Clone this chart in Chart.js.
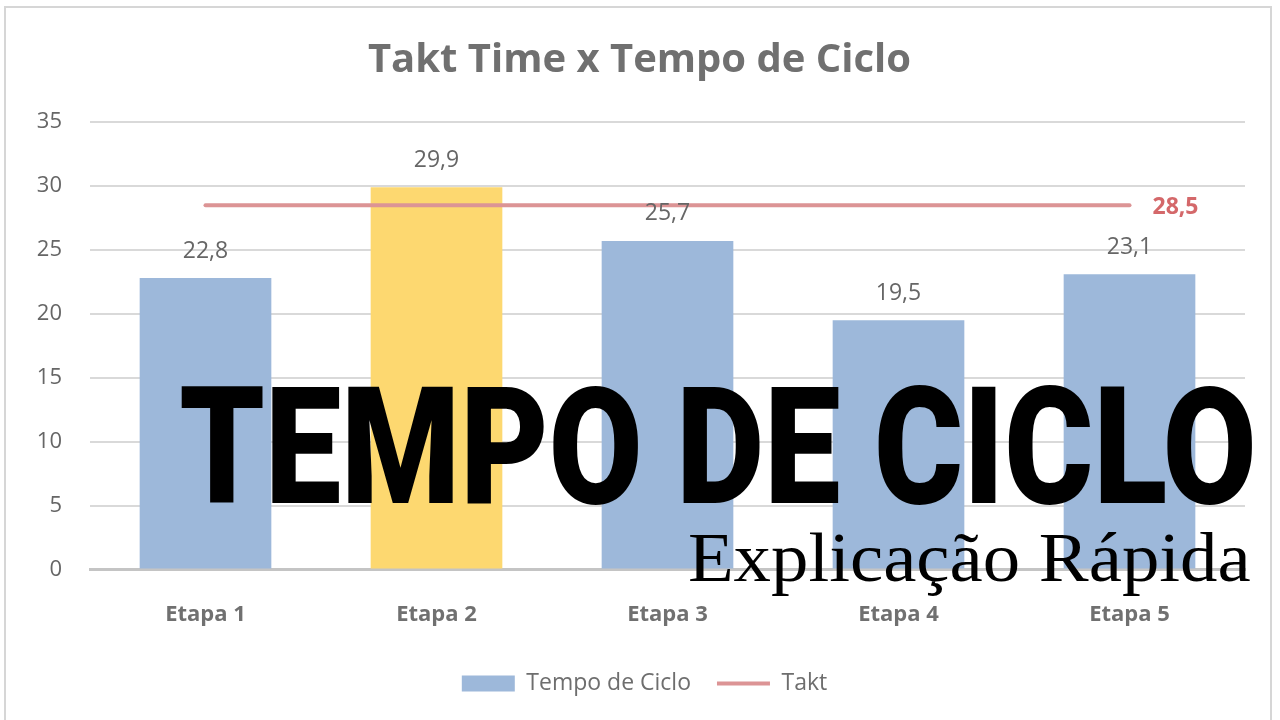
<!DOCTYPE html>
<html>
<head>
<meta charset="utf-8">
<title>Takt Time x Tempo de Ciclo</title>
<script src="https://cdn.jsdelivr.net/npm/chart.js@4.4.1/dist/chart.umd.min.js"></script>
<style>
  html, body { margin: 0; padding: 0; background: #fff; overflow: hidden; }
  #frame { position: absolute; left: 4px; top: 6px; width: 1264px; height: 740px; border: 2px solid #d6d6d6; }
  #wrap { position: absolute; left: 0; top: 0; width: 1280px; height: 720px; }
</style>
</head>
<body>
<div id="frame"></div>
<div id="wrap"><canvas id="myChart" width="1280" height="720"></canvas></div>
<script>
// dados do gráfico
var etapas = ['Etapa 1', 'Etapa 2', 'Etapa 3', 'Etapa 4', 'Etapa 5'];
var tempoCiclo = [22.8, 29.9, 25.7, 19.5, 23.1];
var takt = [28.5, 28.5, 28.5, 28.5, 28.5];
var barColors = ['#9db8da', '#fdd870', '#9db8da', '#9db8da', '#9db8da'];
var yTicks = [0, 5, 10, 15, 20, 25, 30, 35];

var grayText = '#6e6e6e';

function fmt(v){
  return v.toFixed(1).replace('.', ',');
}

// rótulos de valor acima das barras e do takt
var valueLabels = {
  id: 'valueLabels',
  afterDatasetsDraw: function(chart){
    var ctx = chart.ctx;
    ctx.save();
    var barMeta = chart.getDatasetMeta(0);
    ctx.font = '23px "Open Sans"';
    ctx.fillStyle = '#666666';
    ctx.textAlign = 'center';
    ctx.textBaseline = 'middle';
    barMeta.data.forEach(function(el, i){
      ctx.fillText(fmt(tempoCiclo[i]), el.x, el.y - 27);
    });
    var lineMeta = chart.getDatasetMeta(1);
    var last = lineMeta.data[lineMeta.data.length - 1];
    ctx.font = 'bold 23px "Open Sans"';
    ctx.fillStyle = '#d4686a';
    ctx.textAlign = 'left';
    ctx.fillText(fmt(takt[takt.length - 1]), last.x + 23, last.y + 2);
    ctx.restore();
  }
};

// centraliza título e legenda na moldura
var shiftBoxes = {
  id: 'shiftBoxes',
  afterLayout: function(chart){
    chart.legend.left += 22;
    chart.legend.right += 22;
    if (chart.titleBlock) {
      chart.titleBlock.left += 17;
      chart.titleBlock.right += 17;
    }
  }
};

// texto grande sobreposto
function fitText(ctx, text, font, left, right, capTop, baseline, refChar){
  ctx.textAlign = 'left';
  ctx.textBaseline = 'alphabetic';
  ctx.font = font.replace('SIZE', '100px');
  var a = ctx.measureText(refChar).actualBoundingBoxAscent;
  var size = Math.round(100 * (baseline - capTop) / a);
  ctx.font = font.replace('SIZE', size + 'px');
  var m = ctx.measureText(text);
  var inkW = m.actualBoundingBoxLeft + m.actualBoundingBoxRight;
  var sx = (right - left) / inkW;
  ctx.save();
  ctx.translate(left + m.actualBoundingBoxLeft * sx, baseline);
  ctx.scale(sx, 1);
  ctx.fillText(text, 0, 0);
  ctx.restore();
}

var overlayText = {
  id: 'overlayText',
  afterDraw: function(chart){
    var ctx = chart.ctx;
    ctx.save();
    ctx.fillStyle = '#000000';
    fitText(ctx, 'TEMPO DE CICLO', '900 SIZE Roboto', 181, 1252, 386, 503, 'T');
    fitText(ctx, 'Explicação Rápida', 'SIZE "Liberation Serif"', 689, 1250, 536, 581, 'E');
    ctx.restore();
  }
};

new Chart(document.getElementById('myChart'), {
  type: 'bar',
  data: {
    labels: etapas,
    datasets: [
      {
        label: 'Tempo de Ciclo',
        data: tempoCiclo,
        backgroundColor: barColors,
        categoryPercentage: 1,
        barPercentage: 0.57,
        order: 2
      },
      {
        label: 'Takt',
        type: 'line',
        data: takt,
        borderColor: '#dc9495',
        backgroundColor: '#dc9495',
        borderWidth: 4,
        borderCapStyle: 'round',
        pointRadius: 0,
        fill: false,
        order: 1
      }
    ]
  },
  options: {
    responsive: false,
    animation: false,
    devicePixelRatio: 1,
    layout: { padding: { left: 0, right: 35, top: 0, bottom: 15 } },
    plugins: {
      title: {
        display: true,
        text: 'Takt Time x Tempo de Ciclo',
        color: '#707070',
        font: { family: 'Open Sans', size: 40, weight: 'bold' },
        padding: { top: 37, bottom: 37 }
      },
      legend: {
        position: 'bottom',
        labels: {
          usePointStyle: true,
          pointStyleWidth: 53,
          boxHeight: 16,
          padding: 26,
          color: grayText,
          font: { family: 'Open Sans', size: 23 },
          generateLabels: function(chart){
            return [
              { text: 'Tempo de Ciclo', fillStyle: '#9db8da', strokeStyle: '#9db8da', lineWidth: 0, pointStyle: 'rect', datasetIndex: 0, fontColor: grayText },
              { text: 'Takt', fillStyle: '#dc9495', strokeStyle: '#dc9495', lineWidth: 4, pointStyle: 'line', datasetIndex: 1, fontColor: grayText }
            ];
          }
        }
      },
      tooltip: { enabled: false }
    },
    scales: {
      x: {
        grid: { display: false },
        border: { color: '#c4c4c4', width: 3 },
        afterFit: function(scale){ scale.height = scale.height - 6; },
        ticks: {
          color: '#707070',
          padding: 24,
          font: { family: 'Open Sans', size: 22, weight: 'bold' }
        }
      },
      y: {
        min: 0,
        max: 35,
        afterBuildTicks: function(scale){
          scale.ticks = yTicks.map(function(v){ return { value: v }; });
        },
        afterFit: function(scale){ scale.width = 90; },
        border: { display: false },
        grid: { color: '#d9d9d9', lineWidth: 2, drawTicks: false },
        ticks: {
          color: '#666666',
          padding: 28,
          font: { family: 'Open Sans', size: 22 }
        }
      }
    }
  },
  plugins: [valueLabels, shiftBoxes, overlayText]
});
</script>
</body>
</html>
